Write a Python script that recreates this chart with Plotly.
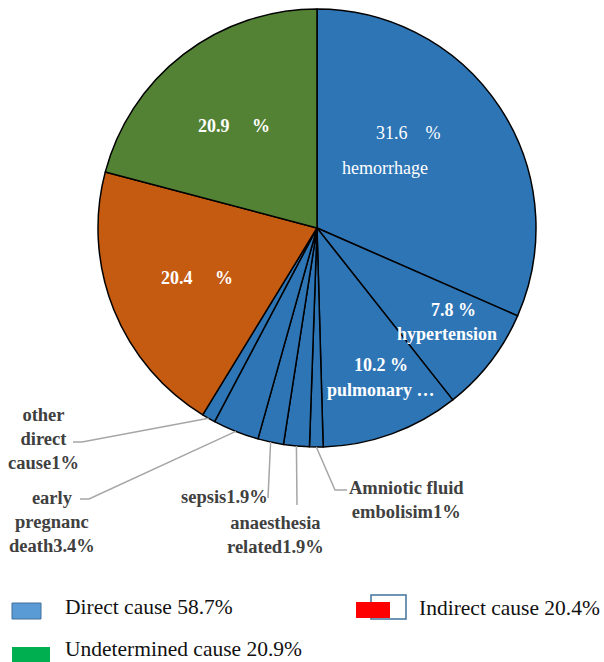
import math
import plotly.graph_objects as go

# ---- data ----
categories = ["hemorrhage", "hypertension", "pulmonary embolism", "Amniotic fluid embolisim",
              "anaesthesia related", "sepsis", "early pregnanc death", "other direct cause",
              "Indirect cause", "Undetermined cause"]
values = [31.6, 7.8, 10.2, 1.0, 1.9, 1.9, 3.4, 1.0, 20.4, 20.9]
slice_colors = ["#2E75B6"] * 8 + ["#C55A11", "#548235"]

legend_labels = ["Direct cause 58.7%", "Indirect cause 20.4%", "Undetermined cause 20.9%"]

W, H = 604, 662
CX, CY, R = 317, 228, 219   # pie centre / radius in pixels


def px(x):
    return x / W


def py(y):
    return 1 - y / H


fig = go.Figure()
fig.add_trace(go.Pie(
    labels=categories, values=values, sort=False, direction="clockwise", rotation=0,
    marker=dict(colors=slice_colors, line=dict(color="#000000", width=1.5)),
    textinfo="none", hoverinfo="label+percent", showlegend=False,
    domain=dict(x=[px(CX - R), px(CX + R)], y=[py(CY + R), py(CY - R)]),
))

SERIF = "'Liberation Serif', 'Times New Roman', Times, 'DejaVu Serif', serif"
ann = []
shapes = []


def text(x, y, s, size=18, color="white", bold=True, xanchor="center"):
    if bold:
        s = "<b>" + s + "</b>"
    ann.append(dict(x=px(x), y=py(y), xref="paper", yref="paper", text=s, showarrow=False,
                    xanchor=xanchor, yanchor="middle",
                    font=dict(family=SERIF, size=size, color=color)))


NB = "\u00a0"
# inside labels
text(408, 133, f"{values[0]}{NB*4}%", bold=False)
text(385, 168, "hemorrhage", bold=False)
text(453, 310, f"{values[1]} %")
text(447, 334, "hypertension")
text(381, 365, f"{values[2]} %")
text(381, 390, "pulmonary …")
text(197, 278, f"{values[8]}{NB*5}%")
text(234, 126, f"{values[9]}{NB*5}%")

# outside labels
GRAY = "#404040"
text(43, 439, "other<br>direct<br>cause1%", size=18.5, color=GRAY)
text(52, 522, "early<br>pregnanc<br>death3.4%", size=18.5, color=GRAY)
text(224, 497, "sepsis1.9%", size=18.5, color=GRAY)
text(275, 535, "anaesthesia<br>related1.9%", size=18.5, color=GRAY)
text(406, 500, "Amniotic fluid<br>embolisim1%", size=18.5, color=GRAY)

# leader lines from slice mid-angles
total = sum(values)
cum = 0
mid = []
for v in values:
    mid.append((cum + v / 2) / total * 2 * math.pi)
    cum += v


def edge(i):
    a = mid[i]
    return CX + R * math.sin(a), CY - R * math.cos(a)


def leader(i, pts):
    x0, y0 = edge(i)
    allp = [(x0, y0)] + pts
    path = "M " + " L ".join(f"{px(x)} {py(y)}" for x, y in allp)
    shapes.append(dict(type="path", xref="paper", yref="paper", path=path,
                       line=dict(color="#A6A6A6", width=1.5)))


leader(3, [(335, 490), (347, 490)])
leader(4, [(297, 505)])
leader(5, [(268, 498)])
leader(6, [(89, 499), (80, 499)])
leader(7, [(82, 442), (73, 442)])

# custom legend
shapes.append(dict(type="rect", xref="paper", yref="paper", x0=px(12), x1=px(41), y0=py(619), y1=py(603),
                   fillcolor="#5B9BD5", line=dict(color="#41719C", width=1)))
shapes.append(dict(type="rect", xref="paper", yref="paper", x0=px(12), x1=px(50), y0=py(663), y1=py(647),
                   fillcolor="#00B050", line=dict(color="#00B050", width=0)))
shapes.append(dict(type="rect", xref="paper", yref="paper", x0=px(371), x1=px(406), y0=py(619), y1=py(595),
                   fillcolor="white", line=dict(color="#41719C", width=1.5)))
shapes.append(dict(type="rect", xref="paper", yref="paper", x0=px(356), x1=px(390), y0=py(618), y1=py(602),
                   fillcolor="#FF0000", line=dict(color="#FF0000", width=0)))

text(63, 607, legend_labels[0], size=21.5, color="#111111", bold=False, xanchor="left")
text(417, 608, legend_labels[1], size=21.5, color="#111111", bold=False, xanchor="left")
text(63, 649, legend_labels[2], size=21.5, color="#111111", bold=False, xanchor="left")

fig.update_layout(width=W, height=H, margin=dict(l=0, r=0, t=0, b=0),
                  paper_bgcolor="white", plot_bgcolor="white",
                  annotations=ann, shapes=shapes, showlegend=False)
fig.write_html("out.html")
